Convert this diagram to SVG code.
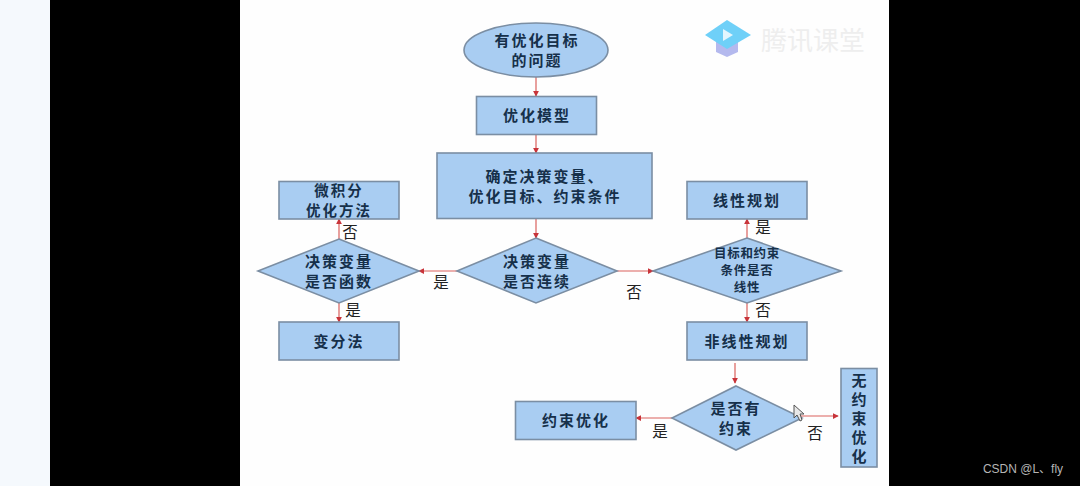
<svg xmlns="http://www.w3.org/2000/svg" width="1080" height="486" viewBox="0 0 1080 486">
<style>
.n{fill:#a9cdf2;stroke:#7b8ea3;stroke-width:1.6}
.t{font-family:"Noto Sans CJK SC","Liberation Sans",sans-serif;font-weight:700;font-size:15px;fill:#16304a;text-anchor:middle;letter-spacing:2px}
.s{font-size:12.5px;letter-spacing:.7px}
.l{font-family:"Noto Sans CJK SC","Liberation Sans",sans-serif;font-size:15.5px;fill:#222;text-anchor:middle}
.c{fill:none;stroke:#d9605c;stroke-width:1.2;marker-end:url(#a)}
</style>
<defs>
<marker id="a" viewBox="0 0 8 8" refX="7" refY="4" markerWidth="6" markerHeight="6" markerUnits="userSpaceOnUse" orient="auto"><path d="M0 0L8 4L0 8Z" fill="#c8343a"/></marker>
</defs>
<rect width="1080" height="486" fill="#000"/>
<rect width="50" height="486" fill="#f5f9fd"/>
<rect x="240" width="649" height="486" fill="#fefefe"/>
<g id="logo">
<path d="M716 42V52L727 57L738 52V42Z" fill="#b4b9ee"/>
<path d="M727 20L751 35L727 49L705 35Z" fill="#6fd0f8"/>
<path d="M723 29L733 35L723 41Z" fill="#e4f6fe"/>
<text x="813" y="50" font-family="Noto Sans CJK SC,sans-serif" font-size="26" fill="#eeeeee" text-anchor="middle">腾讯课堂</text>
</g>
<g id="connectors">
<path class="c" d="M536 77V96"/>
<path class="c" d="M536 134V153"/>
<path class="c" d="M536 218V238"/>
<path class="c" d="M457 271H419"/>
<path class="c" d="M339 239V219"/>
<path class="c" d="M339 303V322"/>
<path class="c" d="M617 271H653"/>
<path class="c" d="M747 238V219"/>
<path class="c" d="M747 303V322"/>
<path class="c" d="M735 363V383"/>
<path class="c" d="M672 418H636"/>
<path class="c" d="M800 416H838"/>
</g>
<g id="n1"><ellipse class="n" cx="536" cy="50" rx="72" ry="27"/><text class="t" x="537" y="46">有优化目标<tspan x="537" dy="20">的问题</tspan></text></g>
<g id="n2"><rect class="n" x="476.500" y="96.500" width="120" height="38"/><text class="t" x="537" y="121">优化模型</text></g>
<g id="n3"><rect class="n" x="437" y="153" width="215" height="65.500"/><text class="t" x="545" y="182">确定决策变量、<tspan x="545" dy="20">优化目标、约束条件</tspan></text></g>
<g id="n4"><rect class="n" x="279" y="181.500" width="120" height="37.500"/><text class="t" x="339" y="196" style="font-size:14.500px">微积分<tspan x="339" dy="20">优化方法</tspan></text></g>
<g id="n5"><rect class="n" x="687" y="181.500" width="120" height="37.500"/><text class="t" x="747" y="206">线性规划</text></g>
<g id="n6"><path class="n" d="M536 238L617 271L536 303L457 271Z"/><text class="t" x="537" y="267">决策变量<tspan x="537" dy="20">是否连续</tspan></text></g>
<g id="n7"><path class="n" d="M339 239L419 271L339 303L258 271Z"/><text class="t" x="339" y="267">决策变量<tspan x="339" dy="20">是否函数</tspan></text></g>
<g id="n8"><path class="n" d="M747 238L841 271L747 303L653 271Z"/><text class="t s" x="747" y="258">目标和约束<tspan x="747" dy="17">条件是否</tspan><tspan x="747" dy="17">线性</tspan></text></g>
<g id="n9"><rect class="n" x="279" y="322" width="120" height="38"/><text class="t" x="339" y="347">变分法</text></g>
<g id="n10"><rect class="n" x="687" y="322" width="120" height="38"/><text class="t" x="747" y="347">非线性规划</text></g>
<g id="n11"><path class="n" d="M736 386L802 418L736 450L672 418Z"/><text class="t" x="736" y="414">是否有<tspan x="736" dy="20">约束</tspan></text></g>
<g id="n12"><rect class="n" x="515.500" y="401.500" width="120.500" height="38"/><text class="t" x="576" y="426">约束优化</text></g>
<g id="n13"><rect class="n" x="841" y="368.500" width="36" height="98.500"/><text class="t" x="859" y="386" style="letter-spacing:0">无<tspan x="859" dy="19">约</tspan><tspan x="859" dy="19">束</tspan><tspan x="859" dy="19">优</tspan><tspan x="859" dy="19">化</tspan></text></g>
<g id="labels">
<text class="l" x="350" y="238">否</text>
<text class="l" x="353" y="316">是</text>
<text class="l" x="441" y="288">是</text>
<text class="l" x="634" y="298">否</text>
<text class="l" x="763" y="233">是</text>
<text class="l" x="763" y="316">否</text>
<text class="l" x="660" y="437">是</text>
<text class="l" x="815" y="439">否</text>
</g>
<path id="cursor" d="M794 405V418L797 415L800 421L802 420L800 414L804 414Z" fill="#e8e8e8" stroke="#555" stroke-width="1"/>
<text x="1023" y="473" font-family="Liberation Sans,Noto Sans CJK SC,sans-serif" font-size="12" fill="#b5b5b5" text-anchor="middle">CSDN @L、fly</text>
</svg>
